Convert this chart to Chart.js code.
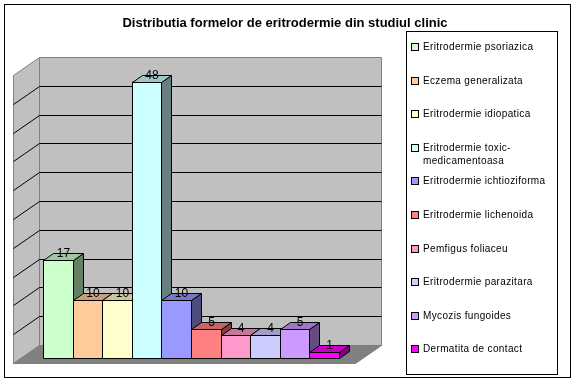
<!DOCTYPE html>
<html>
<head>
<meta charset="utf-8">
<script src="https://cdn.jsdelivr.net/npm/chart.js@4.4.0/dist/chart.umd.min.js"></script>
<style>
  html, body { margin: 0; padding: 0; background: #fff; }
</style>
</head>
<body>
<canvas id="chart" width="576" height="384"></canvas>
<script>
/* Data */
const chartTitle = 'Distributia formelor de eritrodermie din studiul clinic';
const categories = [
  'Eritrodermie psoriazica', 'Eczema generalizata', 'Eritrodermie idiopatica',
  'Eritrodermie toxic-medicamentoasa', 'Eritrodermie ichtioziforma', 'Eritrodermie lichenoida',
  'Pemfigus foliaceu', 'Eritrodermie parazitara', 'Mycozis fungoides', 'Dermatita de contact'
];
const values = [17, 10, 10, 48, 10, 5, 4, 4, 5, 1];
const yMax = 50;
const yStep = 5;

/* Excel 2003 style palette */
const colors = ['#CCFFCC', '#FFCC99', '#FFFFCC', '#CCFFFF', '#9999FF',
                '#FF8080', '#FF99CC', '#CCCCFF', '#CC99FF', '#FF00FF'];

const FONT = '"Liberation Sans", Arial, sans-serif';

/* 3d offsets (px) */
const WALL_DX = 26, WALL_DY = 18;   // total depth of floor / side wall
const INSET_DX = 7, INSET_DY = 5;   // bars sit this far behind front edge
const BAR_DX = 10, BAR_DY = 7;      // depth of a bar

function shade(hex, f) {
  const n = parseInt(hex.slice(1), 16);
  const r = Math.round(((n >> 16) & 255) * f);
  const g = Math.round(((n >> 8) & 255) * f);
  const b = Math.round((n & 255) * f);
  return `rgb(${r},${g},${b})`;
}

function poly(ctx, pts, fill, stroke) {
  ctx.beginPath();
  ctx.moveTo(pts[0][0], pts[0][1]);
  for (let i = 1; i < pts.length; i++) ctx.lineTo(pts[i][0], pts[i][1]);
  ctx.closePath();
  if (fill) { ctx.fillStyle = fill; ctx.fill(); }
  if (stroke) { ctx.strokeStyle = stroke; ctx.stroke(); }
}

/* walls, floor, bars in 3d, labels, title and legend box */
const excel3d = {
  id: 'excel3d',
  beforeDraw(chart) {
    const { ctx, chartArea: a, scales: { y } } = chart;
    ctx.save();
    ctx.fillStyle = '#fff';
    ctx.fillRect(0, 0, chart.width, chart.height);
    ctx.lineWidth = 1;
    ctx.strokeStyle = '#000';
    ctx.strokeRect(4.5, 4.5, 566, 373);

    const fl = Math.round(a.left - INSET_DX) + 0.5, fr = Math.round(a.right - INSET_DX) + 0.5;
    const fb = Math.round(a.bottom + INSET_DY) + 0.5, ft = Math.round(a.top + INSET_DY) + 0.5;
    const bl = fl + WALL_DX, br = fr + WALL_DX, bb = fb - WALL_DY, bt = ft - WALL_DY;

    // back wall
    poly(ctx, [[bl, bt], [br, bt], [br, bb], [bl, bb]], '#C0C0C0', '#808080');
    // side wall
    poly(ctx, [[fl, ft], [bl, bt], [bl, bb], [fl, fb]], '#C0C0C0', '#808080');
    // floor
    poly(ctx, [[fl, fb], [bl, bb], [br, bb], [fr, fb]], '#808080', '#808080');

    // gridlines on side and back wall
    ctx.strokeStyle = '#000';
    for (let v = yStep; v < yMax; v += yStep) {
      const yy = Math.round(y.getPixelForValue(v));
      ctx.beginPath();
      ctx.moveTo(fl, yy + INSET_DY + 0.5);
      ctx.lineTo(bl, yy + INSET_DY - WALL_DY + 0.5);
      ctx.lineTo(br, yy + INSET_DY - WALL_DY + 0.5);
      ctx.stroke();
    }
    ctx.restore();
  },
  afterDatasetsDraw(chart) {
    const ctx = chart.ctx;
    ctx.save();
    ctx.lineWidth = 1;
    const tops = [];
    chart.data.datasets.forEach((ds, i) => {
      const bar = chart.getDatasetMeta(i).data[0];
      const p = bar.getProps(['x', 'y', 'base', 'width'], true);
      const l = Math.round(p.x - p.width / 2) + 0.5;
      const r = Math.round(p.x + p.width / 2) + 0.5;
      const t = Math.round(p.y) + 0.5;
      const b = Math.round(p.base) + 0.5;
      const c = ds.backgroundColor;
      poly(ctx, [[r, t], [r + BAR_DX, t - BAR_DY], [r + BAR_DX, b - BAR_DY], [r, b]], shade(c, 0.5), '#000');
      poly(ctx, [[l, t], [r, t], [r + BAR_DX, t - BAR_DY], [l + BAR_DX, t - BAR_DY]], shade(c, 0.78), '#000');
      poly(ctx, [[l, t], [r, t], [r, b], [l, b]], c, '#000');
      tops.push({ x: (l + r) / 2 + BAR_DX / 2, y: t - BAR_DY, v: ds.data[0] });
    });
    ctx.fillStyle = '#000';
    ctx.font = '12px ' + FONT;
    ctx.textAlign = 'center';
    ctx.textBaseline = 'middle';
    tops.forEach(o => ctx.fillText(String(o.v), o.x, o.y));
    ctx.restore();
  },
  afterDraw(chart) {
    const ctx = chart.ctx;
    ctx.save();
    // title
    ctx.fillStyle = '#000';
    ctx.font = 'bold 13px ' + FONT;
    ctx.textAlign = 'center';
    ctx.textBaseline = 'middle';
    ctx.fillText(chartTitle, 285, 23);

    // legend
    ctx.lineWidth = 1;
    ctx.strokeStyle = '#000';
    ctx.strokeRect(406.5, 31.5, 151, 343);
    ctx.font = '10px ' + FONT;
    ctx.letterSpacing = '0.35px';
    ctx.textAlign = 'left';
    chart.data.datasets.forEach((ds, i) => {
      const cy = Math.round(47 + i * 33.6);
      ctx.fillStyle = ds.backgroundColor;
      ctx.fillRect(411.5, cy - 3.5, 7, 7);
      ctx.strokeRect(411.5, cy - 3.5, 7, 7);
      ctx.fillStyle = '#000';
      const lines = ds.label.split(/(?<=-)/);
      lines.forEach((ln, k) => ctx.fillText(ln, 423, cy + k * 13));
    });
    ctx.restore();
  }
};

const datasets = categories.map((name, i) => ({
  label: name,
  data: [values[i]],
  backgroundColor: colors[i],
  borderColor: '#000',
  borderWidth: 1,
  barPercentage: 1,
  categoryPercentage: 296 / 342
}));

new Chart(document.getElementById('chart'), {
  type: 'bar',
  data: { labels: [''], datasets },
  options: {
    responsive: false,
    devicePixelRatio: 1,
    animation: false,
    layout: { padding: { left: 20, right: 214, top: 70, bottom: 26 } },
    plugins: {
      legend: { display: false },
      title: { display: false },
      tooltip: { enabled: false }
    },
    scales: {
      x: { display: false },
      y: { display: false, min: 0, max: yMax, ticks: { stepSize: yStep } }
    }
  },
  plugins: [excel3d]
});
</script>
</body>
</html>
